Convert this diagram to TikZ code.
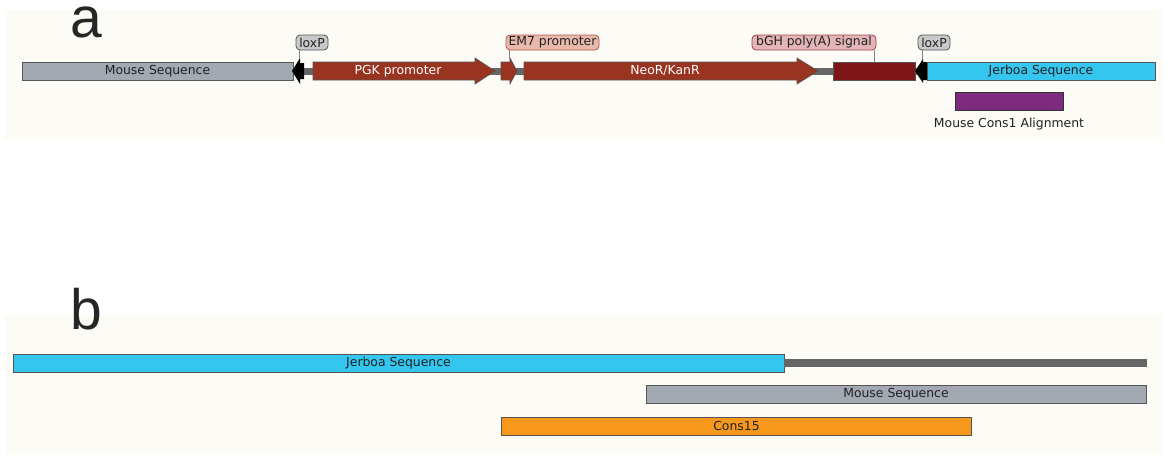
\documentclass[tikz,border=0pt]{standalone}
\usepackage{fontspec}
\setmainfont{DejaVu Sans}
\newfontfamily\panelfont{Liberation Sans}
\newcommand\seqfont{\fontsize{12.4pt}{14pt}\selectfont}
\definecolor{bgc}{HTML}{FCFBF6}
\definecolor{mousec}{HTML}{A3A9B0}
\definecolor{jerboac}{HTML}{35C6F0}
\definecolor{redc}{HTML}{993420}
\definecolor{bghc}{HTML}{7D1416}
\definecolor{purplec}{HTML}{7E2A7E}
\definecolor{orangec}{HTML}{F7981D}
\definecolor{edgec}{HTML}{555555}
\definecolor{backc}{HTML}{666666}
\definecolor{loxfill}{HTML}{C9C9C9}
\definecolor{emfill}{HTML}{E8B9AB}
\definecolor{emedge}{HTML}{B0584A}
\definecolor{bghfill}{HTML}{E3B5B8}
\definecolor{bghedge}{HTML}{A5404A}
\definecolor{txtc}{HTML}{222222}
\begin{document}
\seqfont
\begin{tikzpicture}[x=1pt,y=-1pt,
  txt/.style={font=\seqfont, text=txtc},
  seqbox/.style={txt, draw=edgec, line width=0.8pt, inner sep=0pt, minimum height=18pt},
  featarrow/.style={fill=redc, draw=edgec, line width=0.6pt},
  tagbox/.style={txt, rounded corners=4pt, draw, line width=0.8pt, inner sep=0pt, minimum height=15pt},
  leader/.style={draw=backc!80, line width=0.7pt},
  backbone/.style={draw=backc, line width=7pt},
  panellbl/.style={font=\panelfont\fontsize{57pt}{60pt}\selectfont, text=black!85, inner sep=0pt, anchor=base west, text height=28pt, text depth=0pt}
]
\useasboundingbox (0,0) rectangle (1166,455);
% backgrounds
\fill[bgc] (5,10) rectangle (1162,140);
\fill[bgc] (5,315) rectangle (1162,455);
% panel letters
\node[panellbl] (pa) at (70,37) {a};
\node[panellbl] (pb) at (70,329) {b};

% ---------- panel a ----------
\coordinate (bbL) at (303,71);
\coordinate (bbR) at (923,71);
\draw[backbone] (bbL) -- (bbR);

\node[seqbox, fill=mousec, minimum width=271pt] (mouseA) at (157.5,71) {Mouse Sequence};

% left loxP
\fill[black] (292,71) -- (300,58) -- (300,63) -- (304,63) -- (304,79) -- (300,79) -- (300,84) -- cycle;
\coordinate (loxLtop) at (299,59);

% PGK promoter
\path[featarrow] (313,62) -- (475,62) -- (475,58) -- (495,71) -- (475,84) -- (475,80) -- (313,80) -- cycle;
\node[txt, text=white] (pgk) at (398,71) {PGK promoter};

% EM7 promoter
\path[featarrow] (501,62) -- (510,62) -- (510,58) -- (517,71) -- (510,84) -- (510,80) -- (501,80) -- cycle;
\coordinate (em7top) at (509,59);

% NeoR/KanR
\path[featarrow] (524,62) -- (797,62) -- (797,58) -- (818,71) -- (797,84) -- (797,80) -- (524,80) -- cycle;
\node[txt, text=white] (neo) at (665,71) {NeoR/KanR};

% bGH poly(A)
\node[seqbox, fill=bghc, minimum width=82pt] (bgh) at (874,71) {};
\coordinate (bghtop) at (874,62);

% right loxP
\fill[black] (915,71) -- (923,59) -- (923,62) -- (927,62) -- (927,80) -- (923,80) -- (923,83) -- cycle;
\coordinate (loxRtop) at (922,60);

% Jerboa
\node[seqbox, fill=jerboac, minimum width=228pt] (jerA) at (1041,71) {Jerboa Sequence};

% Mouse Cons1 alignment
\node[draw=black!80, line width=0.8pt, fill=purplec, inner sep=0pt, minimum width=108pt, minimum height=18pt] (cons1) at (1009,101) {};
\node[txt] (cons1lbl) at (1009,124) {Mouse Cons1 Alignment};

% tags
\node[tagbox, fill=loxfill, draw=edgec, minimum width=32pt] (loxLlbl) at (312,42.5) {loxP};
\node[tagbox, fill=emfill, draw=emedge, minimum width=93pt] (em7lbl) at (552.5,42.5) {EM7 promoter};
\node[tagbox, fill=bghfill, draw=bghedge, minimum width=124pt] (bghlbl) at (814,42.5) {bGH poly(A) signal};
\node[tagbox, fill=loxfill, draw=edgec, minimum width=32pt] (loxRlbl) at (934,42.5) {loxP};

\draw[leader] (loxLlbl.south -| loxLtop) -- (loxLtop);
\draw[leader] (em7lbl.south -| em7top) -- (em7top);
\draw[leader] (bghlbl.south -| bghtop) -- (bghtop);
\draw[leader] (loxRlbl.south -| loxRtop) -- (loxRtop);

% ---------- panel b ----------
\coordinate (lineBend) at (1147,363);
\node[seqbox, fill=jerboac, minimum width=771pt] (jerB) at (398.5,363) {Jerboa Sequence};
\draw[draw=backc, line width=8pt] (jerB.east) -- (lineBend);
\node[seqbox, fill=mousec, minimum width=500pt] (mouseB) at (896,394) {Mouse Sequence};
\node[seqbox, fill=orangec, minimum width=470pt] (cons15) at (736.5,426) {Cons15};
\end{tikzpicture}
\end{document}
